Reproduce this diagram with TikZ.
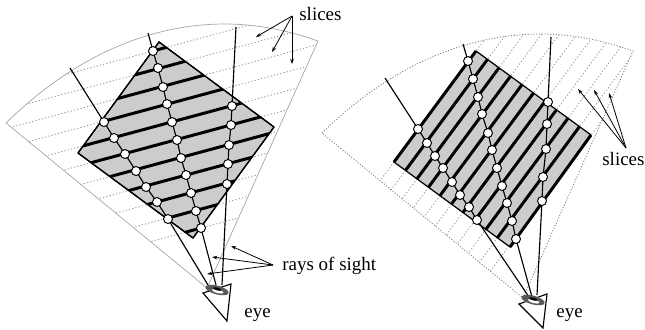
\documentclass[tikz,border=0pt]{standalone}
\usepackage{tikz}
\usetikzlibrary{arrows.meta, calc, backgrounds}
\usepackage{fontspec}
\setmainfont{Liberation Serif}
\newcommand{\leftfan}{(6,123) .. controls (65,65) and (140,24) .. (225,24) .. controls (258,24) and (290,31) .. (318,41) -- (207,288) -- cycle}
\newcommand{\rightfan}{(322,133) .. controls (381,75) and (456,34) .. (541,34) .. controls (574,34) and (605,41) .. (633,51) -- (523,298) -- cycle}

\begin{document}
\begin{tikzpicture}[
  x=0.02cm, y=-0.02cm,
  fan/.style={draw=gray!70, line width=0.4pt},
  fandot/.style={draw=gray, line width=0.5pt, dash pattern=on 0.6pt off 1pt},
  slicedot/.style={draw=gray!80, line width=0.5pt, dash pattern=on 0.7pt off 1.2pt},
  slab/.style={line width=1.7pt},
  volume/.style={draw=black, line width=0.7pt, fill=black!20, line join=round},
  ray/.style={draw=black, line width=0.65pt},
  pebble/.style={circle, draw=black, fill=white, line width=0.55pt, inner sep=0pt, minimum size=0.18cm},
  label/.style={inner sep=0pt, font=\fontsize{10.8}{13}\selectfont},
  pointer/.style={draw=black, line width=0.45pt, -{Stealth[length=3pt, width=2pt]}},
  cone/.style={draw=black, line width=0.65pt, line join=miter},
]
  % Background of the left fan
  \path[use as bounding box] (0,0) rectangle (645,329);
  \begin{scope}[on background layer]
    \begin{scope}
      \clip \leftfan;
      \foreach \k in {-1,...,10}
        \draw[slicedot] (0,92.3+19*\k) -- (330,3.2+19*\k);
    \end{scope}
    \draw[fan] \leftfan;

    % Left volume
    \draw[volume] (159,42) -- (274,127) -- (193,238) -- (78,153) -- cycle;
    \begin{scope}
      \clip (159,42) -- (274,127) -- (193,238) -- (78,153) -- cycle;
      \foreach \k in {0,...,10}
        \draw[slab] (0,92.3+19*\k) -- (330,3.2+19*\k);
    \end{scope}
    \draw[line width=0.7pt, line join=round] (159,42) -- (274,127) -- (193,238) -- (78,153) -- cycle;

    % Right fan
    \begin{scope}
      \clip \rightfan;
      \foreach \k in {0,...,10}
        \draw[slicedot] (476+11.5*\k-164,51+8.4*\k+222) -- (476+11.5*\k+82,51+8.4*\k-111);
    \end{scope}
    \draw[fandot] \rightfan;

    % Right volume
    \draw[volume] (476,51) -- (591,135) -- (510,247) -- (394,162) -- cycle;
    \begin{scope}
      \clip (476,51) -- (591,135) -- (510,247) -- (394,162) -- cycle;
      \foreach \k in {1,...,9}
        \draw[slab] (476+11.5*\k-164,51+8.4*\k+222) -- (476+11.5*\k+82,51+8.4*\k-111);
    \end{scope}
    \draw[slab] (394,162) -- (476,51);
    \draw[slab] (510,247) -- (591,135);
  \end{scope}

  % Samples on the left rays
  \foreach \p [count=\i] in {(104,122),(114,138),(125,154),(136,171),(146,187),(157,202),(168,219)}
    \node[pebble] (la\i) at \p {};
  \foreach \p [count=\i] in {(153,51),(158,68),(163,87),(167,104),(172,122),(177,140),(181,158),(186,175),(191,193),(196,211),(201,228)}
    \node[pebble] (lb\i) at \p {};
  \foreach \p [count=\i] in {(232,106),(231,125),(229,145),(228,164),(227,184)}
    \node[pebble] (lc\i) at \p {};

  % Samples on the right rays
  \foreach \p [count=\i] in {(418,129),(427,143),(435,156),(443,168),(452,182),(460,195),(469,207),(477,220)}
    \node[pebble] (ra\i) at \p {};
  \foreach \p [count=\i] in {(468,61),(473,79),(478,97),(482,114),(488,133),(492,150),(497,168),(502,186),(507,203),(512,221),(516,239)}
    \node[pebble] (rb\i) at \p {};
  \foreach \p [count=\i] in {(548,102),(547,124),(546,149),(543,177),(542,201)}
    \node[pebble] (rc\i) at \p {};

  % Ray ends
  \coordinate (lstarta) at (70,68);
  \coordinate (lstartb) at (148,33);
  \coordinate (lstartc) at (236,27);
  \coordinate (leyea) at (208,285);
  \coordinate (leyeb) at (216,285);
  \coordinate (leyec) at (222,285);
  \coordinate (rstarta) at (385,78);
  \coordinate (rstartb) at (463,44);
  \coordinate (rstartc) at (551,37);
  \coordinate (reyea) at (529,297);
  \coordinate (reyeb) at (532,297);
  \coordinate (reyec) at (537,295);

  \begin{scope}[on background layer]
    \draw[ray] (lstarta) -- (la1.center) -- (la2.center) -- (la3.center) -- (la4.center) -- (la5.center) -- (la6.center) -- (la7.center) -- (leyea);
    \draw[ray] (lstartb) -- (lb1.center) -- (lb2.center) -- (lb3.center) -- (lb4.center) -- (lb5.center) -- (lb6.center) -- (lb7.center) -- (lb8.center) -- (lb9.center) -- (lb10.center) -- (lb11.center) -- (leyeb);
    \draw[ray] (lstartc) -- (lc1.center) -- (lc2.center) -- (lc3.center) -- (lc4.center) -- (lc5.center) -- (leyec);
    \draw[ray] (rstarta) -- (ra1.center) -- (ra2.center) -- (ra3.center) -- (ra4.center) -- (ra5.center) -- (ra6.center) -- (ra7.center) -- (ra8.center) -- (reyea);
    \draw[ray] (rstartb) -- (rb1.center) -- (rb2.center) -- (rb3.center) -- (rb4.center) -- (rb5.center) -- (rb6.center) -- (rb7.center) -- (rb8.center) -- (rb9.center) -- (rb10.center) -- (rb11.center) -- (reyeb);
    \draw[ray] (rstartc) -- (rc1.center) -- (rc2.center) -- (rc3.center) -- (rc4.center) -- (rc5.center) -- (reyec);
  \end{scope}

  % Left eye
  \draw[cone] (203,293) -- (231,284) -- (227,321) -- cycle;
  \fill[black!65, rotate around={-15:(217,290)}] (217,290) ellipse (12 and 4.4);
  \fill[white, rotate around={-15:(217,290)}] (218,291) ellipse (6 and 1.8);
  \fill[black, rotate around={-15:(217,290)}] (217,289) ellipse (4.5 and 1.4);

  % Right eye
  \draw[cone] (519,304) -- (547,294) -- (543,328) -- cycle;
  \fill[black!65, rotate around={-15:(533,300)}] (533,300) ellipse (12 and 4.4);
  \fill[white, rotate around={-15:(533,300)}] (534,301) ellipse (6 and 1.8);
  \fill[black, rotate around={-15:(533,300)}] (533,299) ellipse (4.5 and 1.4);

  % Labels
  \node[label, anchor=base west] (lslices) at (299,20) {slices};
  \node[label, anchor=base west] (lrays) at (282,270) {rays of sight};
  \node[label, anchor=base west] (leye) at (244,317) {eye};
  \node[label, anchor=base west] (rslices) at (602,165) {slices};
  \node[label, anchor=base west] (reye) at (556,317) {eye};

  % Pointers
  \coordinate (lslicehub) at (292,16);
  \coordinate (lrayhub) at (273,265);
  \coordinate (rslicehub) at (626,148);
  \draw[pointer] (lslicehub) -- (256,37);
  \draw[pointer] (lslicehub) -- (272,52);
  \draw[pointer] (lslicehub) -- (292,64);
  \draw[pointer] (lrayhub) -- (231,246);
  \draw[pointer] (lrayhub) -- (212,257);
  \draw[pointer] (lrayhub) -- (207,274);
  \draw[pointer] (rslicehub) -- (578,89);
  \draw[pointer] (rslicehub) -- (594,90);
  \draw[pointer] (rslicehub) -- (609,93);
\end{tikzpicture}
\end{document}
